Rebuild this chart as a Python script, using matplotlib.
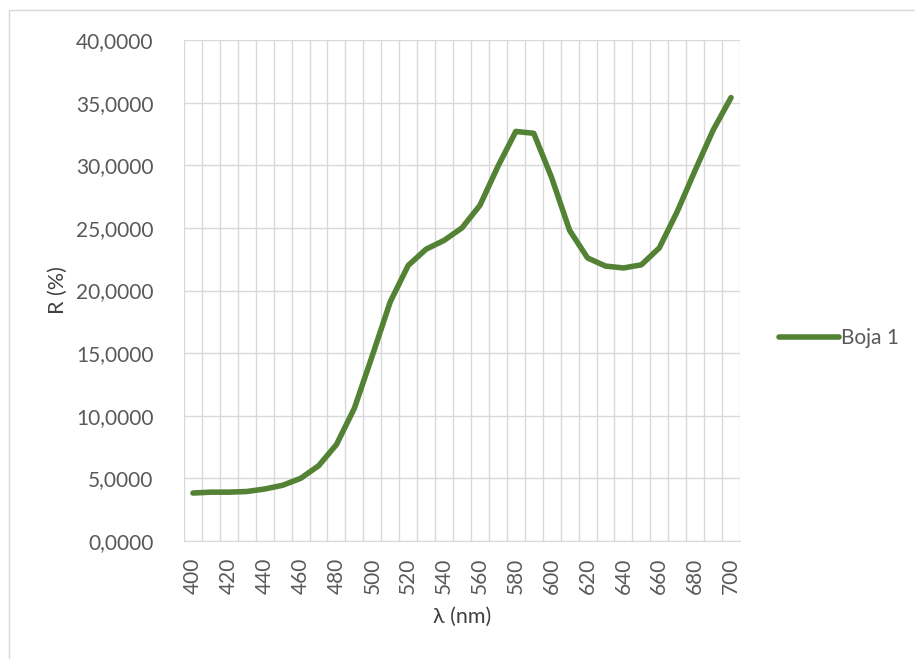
import matplotlib
matplotlib.use("Agg")
import matplotlib.pyplot as plt
from matplotlib.patches import Rectangle
from matplotlib.ticker import FuncFormatter

wavelengths = list(range(400, 701, 10))
reflectance = [3.83, 3.90, 3.90, 3.95, 4.15, 4.45, 5.00, 6.00, 7.70, 10.60,
               14.80, 19.10, 22.00, 23.30, 24.00, 25.00, 26.80, 29.90, 32.70, 32.55,
               29.00, 24.80, 22.60, 21.95, 21.80, 22.05, 23.40, 26.30, 29.60, 32.80,
               35.40]
series_name = "Boja 1"
x_label = "λ (nm)"
y_label = "R (%)"

plt.rcParams['font.family'] = ['Lato', 'DejaVu Sans']

W, H = 915, 659
fig = plt.figure(figsize=(W / 100, H / 100), dpi=100)
fig.patch.set_facecolor('white')

# chart border (outer frame)
fig.patches.append(Rectangle((9 / W, -0.1), 1.2, 1.1 - 10 / H, transform=fig.transFigure,
                             fill=False, edgecolor='#d9d9d9', linewidth=1.0))

left, right, top, bottom = 184, 740, 40, 541
ax = fig.add_axes([left / W, 1 - bottom / H, (right - left) / W, (bottom - top) / H])

n = len(wavelengths)
idx = list(range(n))
ax.plot(idx, reflectance, color='#548235', linewidth=4.0, solid_capstyle='round',
        solid_joinstyle='round', label=series_name, zorder=3)

ax.set_xlim(-0.5, n - 0.5)
ax.set_ylim(0, 40)
ax.set_yticks([0, 5, 10, 15, 20, 25, 30, 35, 40])
ax.yaxis.set_major_formatter(FuncFormatter(lambda v, p: f"{v:.4f}".replace('.', ',')))

# vertical gridlines at category boundaries
for b in range(n + 1):
    ax.axvline(b - 0.5, color='#d9d9d9', linewidth=1.0, zorder=1)
ax.grid(axis='y', color='#d9d9d9', linewidth=1.0, zorder=1)
ax.set_axisbelow(True)

ax.set_xticks(idx[::2])
ax.set_xticklabels([str(w) for w in wavelengths[::2]], rotation=90)

for s in ['top', 'right', 'left']:
    ax.spines[s].set_visible(False)
ax.spines['bottom'].set_color('#d9d9d9')
ax.tick_params(axis='both', length=0, colors='#595959', labelsize=15)
ax.tick_params(axis='y', pad=22)
ax.tick_params(axis='x', pad=12)

ax.set_xlabel(x_label, fontsize=15.5, color='#404040', labelpad=9)
ax.set_ylabel(y_label, fontsize=15.5, color='#404040', labelpad=6)

leg = fig.legend(loc='center left', bbox_to_anchor=(760 / W, 1 - 338 / H), frameon=False,
                 fontsize=15, handlelength=2.9, handletextpad=0.1)
for t in leg.get_texts():
    t.set_color('#595959')

fig.savefig("out.png", dpi=100, facecolor='white')
